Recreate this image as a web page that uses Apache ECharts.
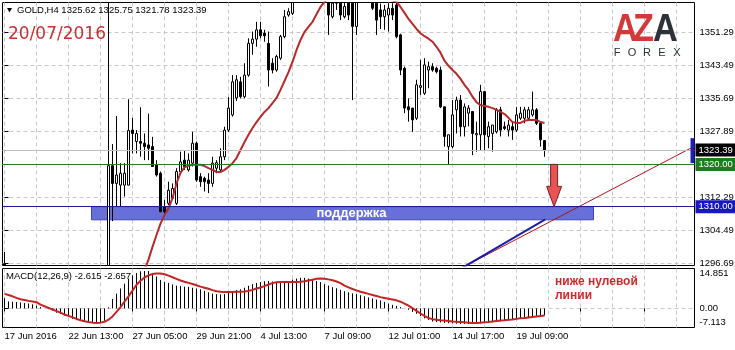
<!DOCTYPE html>
<html><head><meta charset="utf-8">
<script src="https://cdn.jsdelivr.net/npm/echarts@6/dist/echarts.min.js"></script>
<style>html,body{margin:0;padding:0;background:#fff}#c{width:735px;height:350px}</style>
</head><body><div id="c"></div>
<script>
const symbolName = 'GOLD,H4';
const dateLabel = '20/07/2016';
const macdParams = '12,26,9';
const totalSlots = 173;
const tickLabels = ['17 Jun 2016','22 Jun 13:00','27 Jun 05:00','29 Jun 21:00','4 Jul 13:00','7 Jul 09:00','12 Jul 01:00','14 Jul 17:00','19 Jul 09:00'];
const gridBars = [0,8,16,24,32,40,48,56,64,72,80,88,96,104,112,120,128,136,144,152,160,168];
const priceTicks = [1296.69,1304.49,1312.29,1320.09,1327.89,1335.69,1343.49,1351.29];
const macdTicks = [-7.113, 0, 14.851];
const priceRange = [1296.10, 1358.26];

const opens = [
1296.5,1290.0,1287.0,1285.0,1282.0,1279.0,1280.0,1278.0,1276.0,1272.0,1268.0,1267.0,1268.0,1266.0,1264.0,1268.0,1266.0,1265.0,1263.0,1264.0,1262.0,1260.0,1258.0,1256.0,1257.0,1262.0,
1262.0,1319.7,1315.5,1315.1,1315.1,1315.1,1328.1,1325.4,1325.4,1325.0,
1324.6,1324.2,1319.9,1317.9,1310.0,1310.8,1312.0,1310.8,1318.3,1321.0,
1318.7,1320.3,1325.0,1317.1,1316.7,1316.3,1315.5,1319.1,1318.7,1321.8,
1328.1,1331.7,1335.7,1339.5,1336.0,1341.1,1348.6,1349.6,1351.8,1351.0,
1348.6,1343.9,1342.3,1345.1,1350.2,1355.3,1355.7,1359.5,1362.0,1366.0,
1364.0,1368.0,1371.0,1369.0,1366.0,1361.0,1354.9,1359.0,1358.1,1354.9,
1358.1,1358.1,1352.6,1359.5,1361.5,1363.5,1361.0,1358.1,1356.5,1354.9,
1355.3,1356.9,1357.7,1350.6,1342.7,1333.6,1333.3,1330.9,1338.2,1336.8,
1342.3,1343.1,1342.7,1342.3,1333.6,1324.2,1324.2,1332.9,1335.2,1328.9,
1332.1,1332.5,1327.0,1327.0,1337.2,1326.6,1327.3,1327.7,1332.9,1328.9,
1328.1,1328.9,1328.1,1330.9,1330.9,1330.9,1331.7,1332.9,1329.7,1325.62];
const highs = [
1299.3,1291.0,1289.0,1286.0,1284.0,1282.0,1281.0,1280.0,1277.0,1274.0,1270.0,1270.0,1269.0,1268.0,1270.0,1271.0,1268.0,1267.0,1266.0,1265.0,1264.0,1262.0,1260.0,1259.0,1265.0,1266.0,
1362.5,1324.8,1331.4,1320.3,1320.3,1335.4,1331.0,1328.1,1333.5,1327.3,
1332.0,1326.5,1321.0,1318.3,1311.6,1315.9,1315.5,1319.1,1323.0,1323.4,
1322.6,1327.7,1325.4,1317.9,1317.1,1317.9,1321.8,1321.0,1323.8,1328.9,
1335.9,1341.1,1341.1,1340.7,1343.9,1349.8,1351.4,1353.7,1353.7,1351.8,
1351.4,1345.1,1345.9,1350.6,1356.5,1356.9,1362.0,1364.0,1368.0,1368.0,
1370.0,1374.0,1373.0,1371.0,1367.0,1362.0,1360.0,1361.0,1360.0,1359.5,
1360.0,1359.5,1361.0,1363.5,1365.0,1365.0,1362.0,1360.0,1358.0,1357.7,
1358.1,1358.1,1358.5,1350.9,1343.1,1335.6,1333.3,1340.0,1344.7,1345.1,
1344.3,1343.9,1343.1,1343.1,1333.6,1327.0,1335.2,1336.0,1336.4,1334.4,
1334.0,1332.5,1330.1,1338.8,1337.2,1330.1,1329.3,1333.3,1333.6,1330.1,
1330.5,1330.1,1333.6,1333.6,1333.6,1333.6,1337.2,1333.3,1330.1,1325.75];
const lows = [
1293.0,1284.0,1283.0,1279.0,1277.0,1277.0,1276.0,1274.0,1269.0,1266.0,1264.0,1265.0,1263.0,1262.0,1262.0,1264.0,1262.0,1260.0,1261.0,1259.0,1257.0,1256.0,1253.0,1254.0,1255.0,1258.0,
1255.0,1306.6,1310.0,1310.0,1312.4,1315.1,1322.6,1322.6,1321.8,1321.0,
1321.0,1319.5,1317.1,1308.8,1308.4,1310.4,1311.6,1310.4,1317.9,1318.7,
1318.3,1319.5,1315.9,1314.7,1313.6,1313.2,1314.7,1317.9,1318.3,1321.0,
1327.7,1331.3,1335.0,1335.6,1335.6,1340.7,1345.9,1347.8,1349.8,1349.0,
1338.4,1341.5,1341.9,1344.7,1349.8,1354.9,1355.3,1358.5,1361.0,1362.0,
1363.0,1367.0,1366.0,1363.0,1359.5,1350.6,1354.5,1356.5,1354.1,1354.5,
1354.1,1335.2,1350.6,1358.5,1359.5,1359.5,1356.5,1350.6,1352.0,1351.8,
1351.4,1354.1,1349.8,1341.1,1332.1,1330.1,1327.7,1330.5,1336.4,1336.4,
1338.0,1341.9,1341.5,1333.3,1324.2,1319.9,1323.8,1327.3,1326.6,1326.6,
1329.0,1322.2,1323.0,1323.4,1323.4,1323.8,1323.0,1327.3,1326.6,1328.1,
1326.6,1325.8,1327.7,1330.5,1329.7,1330.5,1331.3,1329.3,1324.2,1321.78];
const closes = [
1294.5,1287.0,1285.0,1282.0,1279.0,1280.0,1278.0,1276.0,1272.0,1268.0,1267.0,1268.0,1266.0,1264.0,1268.0,1266.0,1265.0,1263.0,1264.0,1262.0,1260.0,1258.0,1256.0,1257.0,1262.0,1262.0,
1319.7,1315.5,1317.5,1317.9,1317.9,1328.0,1327.3,1327.3,1325.0,1324.2,
1323.8,1319.5,1317.5,1308.8,1308.8,1313.9,1314.3,1318.3,1320.6,1319.5,
1321.0,1325.0,1316.3,1315.9,1315.9,1315.5,1320.3,1320.4,1321.8,1328.1,
1333.3,1339.5,1340.0,1336.0,1341.1,1348.6,1349.6,1351.8,1350.4,1350.4,
1342.3,1342.3,1345.5,1350.2,1354.9,1356.1,1359.5,1362.0,1366.0,1364.0,
1368.0,1371.0,1369.0,1366.0,1361.0,1355.3,1358.1,1358.1,1355.3,1357.3,
1355.3,1352.6,1359.5,1361.5,1363.5,1361.0,1356.9,1354.1,1354.9,1356.5,
1356.9,1355.3,1350.2,1342.3,1333.3,1332.9,1330.5,1338.8,1338.6,1343.5,
1343.1,1342.3,1341.9,1333.6,1326.6,1327.0,1331.7,1335.2,1328.9,1333.6,
1333.3,1327.3,1327.3,1337.2,1327.0,1328.9,1329.3,1332.9,1328.1,1328.5,
1329.3,1328.1,1331.7,1332.1,1332.9,1332.9,1332.9,1329.7,1325.8,1323.39];

const maValues = [
null,null,null,null,null,null,null,null,null,null,null,null,null,null,null,null,null,null,null,null,null,null,null,null,null,null,null,null,null,null,
1280.5,1283.5,1286.5,1289.5,1292.3,1295.0,1297.5,1300.5,1303.3,1306.0,
1308.0,1309.6,1312.0,1315.5,1318.0,1319.3,1319.7,1319.9,1319.9,1319.9,
1319.6,1319.1,1318.7,1318.2,1318.2,1318.7,1319.4,1320.3,1321.5,1323.4,
1325.3,1327.0,1328.6,1330.0,1331.2,1332.4,1333.3,1334.5,1335.7,1337.6,
1339.7,1341.8,1344.2,1347.0,1349.4,1351.3,1352.5,1353.7,1355.5,1357.2,
1358.4,1359.4,1360.3,1361.1,1361.8,1362.3,1362.7,1362.9,1363.0,1362.9,
1362.6,1362.2,1361.6,1360.9,1360.2,1359.6,1359.1,1358.7,1358.4,1357.2,
1355.8,1354.4,1353.2,1352.0,1351.0,1350.3,1349.7,1349.0,1347.8,1346.4,
1344.5,1343.3,1342.3,1341.4,1340.2,1338.8,1337.6,1336.0,1334.7,1334.0,
1333.8,1333.6,1333.3,1332.9,1332.4,1331.9,1331.0,1330.0,1329.8,1329.8,
1330.3,1330.5,1330.5,1330.5,1330.0,1329.8];

const macdHist = [
3.8,2.6,2.5,2.4,2.2,2.0,1.8,1.5,1.0,0.5,
0.1,-0.3,-0.8,-1.6,-2.1,-2.7,-3.2,-3.9,-4.4,-4.7,
-5.0,-5.2,-5.3,-5.3,-5.3,-4.6,0.4,3.5,5.5,7.4,
9.2,11.0,12.3,13.2,13.8,13.9,13.9,13.2,11.9,10.6,
9.9,9.5,8.9,8.5,8.3,8.1,8.0,7.7,7.4,7.1,
6.5,6.0,5.5,5.3,5.2,5.3,5.7,6.3,6.8,7.1,
7.7,8.4,9.0,9.5,9.8,10.1,10.2,10.0,9.7,9.6,
9.6,10.1,10.7,11.1,11.4,11.4,11.1,10.6,10.2,9.8,
9.0,8.5,7.9,7.5,6.9,6.4,6.0,5.6,5.3,4.9,
4.5,4.1,3.7,3.3,3.0,2.4,1.8,1.3,0.9,0.5,
0.1,-0.5,-1.3,-2.0,-2.9,-3.7,-4.3,-4.9,-5.1,-5.2,
-5.4,-5.5,-5.6,-5.7,-5.8,-5.8,-5.8,-5.8,-5.7,-5.6,
-5.5,-5.3,-5.1,-5.0,-4.9,-4.7,-4.5,-4.2,-4.0,-3.8,
-3.4,-3.2,-3.0,-2.8,-2.7,-2.615];
const macdSignal = [
5.4,5.0,4.5,3.9,3.4,3.1,2.8,2.6,2.3,1.4,
0.8,0.2,-0.4,-1.0,-1.6,-2.3,-2.8,-3.3,-3.9,-4.4,
-4.8,-5.1,-5.3,-5.4,-5.3,-5.0,-4.2,-3.0,-1.3,0.5,
2.5,4.5,6.6,8.8,10.3,11.5,12.3,12.8,13.0,13.0,
12.7,12.2,11.6,11.0,10.4,9.9,9.5,9.1,8.6,8.1,
7.7,7.3,6.8,6.4,6.2,6.1,6.1,6.1,6.2,6.2,
6.3,6.5,6.9,7.4,7.8,8.3,8.9,9.4,9.7,9.8,
9.8,9.8,9.8,9.8,9.9,10.1,10.4,10.7,11.0,11.1,
11.0,10.8,10.5,10.0,9.4,8.5,7.8,7.2,6.7,6.2,
5.8,5.4,5.0,4.6,4.2,3.9,3.6,3.3,3.0,2.5,
1.8,1.0,0.1,-0.9,-1.9,-2.8,-3.6,-4.0,-4.2,-4.4,
-4.5,-4.7,-4.9,-5.0,-5.1,-5.2,-5.3,-5.4,-5.4,-5.3,
-5.2,-5.1,-4.9,-4.7,-4.5,-4.4,-4.2,-4.1,-3.9,-3.7,
-3.6,-3.4,-3.2,-3.0,-2.8,-2.657];

const levelPrices = [1320.00, 1310.00];
const zoneBars = [21.75, 147.25];
const zonePrices = [1310.0, 1306.9];
const redTrendBars = [112, 172.5];
const redTrendPrices = [1294.4, 1324.3];
const blueTrendBars = [112, 135.2];
const blueTrendPrices = [1294.2, 1307.0];
const arrowBar = 137.4;
const arrowPrices = [1320.0, 1310.0];
const tabPrices = [1326.2, 1320.3];

const FONT = '"Liberation Sans", Arial, sans-serif';
const chart = echarts.init(document.getElementById('c'), null, {renderer: 'canvas'});
const categories = Array.from({length: totalSlots}, (_, i) => String(i));
// candles are cut at the edges of the price window, as the plot frame does
const clampP = v => Math.min(Math.max(v, priceRange[0]), priceRange[1]);
const candleData = opens.map((o, i) => {
  if (lows[i] > priceRange[1] || highs[i] < priceRange[0]) return '-';
  return [clampP(o), clampP(closes[i]), clampP(lows[i]), clampP(highs[i])];
});
// histogram stems: one vertical segment per bar, separated by gaps
const histStems = [];
macdHist.forEach((v, i) => { histStems.push([i, 0], [i, v], [i, '-']); });
const last = opens.length - 1;
const lastClose = closes[last];
const gridLine = {color: '#c8c8c8', width: 1, type: [4, 3]};
const lblBase = {fontSize: 9.5, color: '#000', fontFamily: FONT};

const option = {
  animation: false,
  backgroundColor: '#fff',
  textStyle: {fontFamily: FONT},
  grid: [
    {left: 2.5, right: 40.5, top: 2.5, height: 263, show: true, borderColor: '#000', borderWidth: 1, backgroundColor: '#fff', outerBoundsMode: 'none'},
    {left: 2.5, right: 40.5, top: 268.5, height: 59, show: true, borderColor: '#000', borderWidth: 1, backgroundColor: '#fff', outerBoundsMode: 'none'}
  ],
  xAxis: [
    {type: 'category', gridIndex: 0, data: categories, boundaryGap: true,
     axisLine: {show: false}, axisTick: {show: false}, axisLabel: {show: false},
     splitLine: {show: true, interval: 7, alignWithLabel: true, lineStyle: gridLine}},
    {type: 'category', gridIndex: 1, data: categories, boundaryGap: true,
     axisLine: {show: false},
     axisTick: {show: true, interval: 15, alignWithLabel: true, length: 3, lineStyle: {color: '#000'}},
     axisLabel: Object.assign({show: true, interval: 15, align: 'left', margin: 4,
       formatter: (v, idx) => tickLabels[idx / 16] || ''}, lblBase),
     splitLine: {show: false}},
    {type: 'value', gridIndex: 0, min: -0.5, max: totalSlots - 0.5, show: false},
    {type: 'value', gridIndex: 1, min: -0.5, max: totalSlots - 0.5,
     axisLine: {show: false}, axisTick: {show: true, length: 0, customValues: gridBars},
     axisLabel: {show: false}, splitLine: {show: true, lineStyle: gridLine}}
  ],
  yAxis: [
    {type: 'value', gridIndex: 0, position: 'right', min: priceRange[0], max: priceRange[1],
     axisLine: {show: false},
     axisTick: {show: true, length: 4, customValues: priceTicks, lineStyle: {color: '#000'}},
     axisLabel: Object.assign({customValues: priceTicks, margin: 5, formatter: v => v.toFixed(2)}, lblBase),
     splitLine: {show: true, lineStyle: gridLine}},
    {type: 'value', gridIndex: 1, position: 'right', min: -7.113, max: 14.851,
     axisLine: {show: false},
     axisTick: {show: true, length: 4, customValues: macdTicks, lineStyle: {color: '#000'}},
     axisLabel: Object.assign({customValues: macdTicks, margin: 5,
       verticalAlignMinLabel: 'bottom', verticalAlignMaxLabel: 'top',
       formatter: v => v === 0 ? '0.00' : v.toFixed(3)}, lblBase),
     splitLine: {show: true, showMinLine: false, showMaxLine: false, lineStyle: gridLine}}
  ],
  series: [
    {type: 'line', xAxisIndex: 3, yAxisIndex: 1, z: 3, symbol: 'none', showSymbol: false, connectNulls: false,
     data: histStems, lineStyle: {color: '#000', width: 1}},
    {type: 'line', xAxisIndex: 1, yAxisIndex: 1, symbol: 'none', showSymbol: false, z: 6,
     data: macdSignal, lineStyle: {color: '#c42424', width: 2}},
    {type: 'line', xAxisIndex: 2, yAxisIndex: 0, z: 4, symbol: 'none',
     data: redTrendBars.map((b, i) => [b, redTrendPrices[i]]),
     lineStyle: {color: '#a81818', width: 1},
     markArea: {silent: true,
       itemStyle: {color: '#6670d8', borderColor: '#4048a8', borderWidth: 1},
       label: {show: true, position: 'inside', formatter: 'поддержка', color: '#fff', fontWeight: 'bold', fontSize: 13, fontFamily: FONT, offset: [9, 0]},
       data: [[{xAxis: zoneBars[0], yAxis: zonePrices[0]}, {xAxis: zoneBars[1], yAxis: zonePrices[1]}]]}},
    {type: 'line', xAxisIndex: 2, yAxisIndex: 0, z: 4, symbol: 'none',
     data: blueTrendBars.map((b, i) => [b, blueTrendPrices[i]]),
     lineStyle: {color: '#1c1ca8', width: 2}},
    {type: 'candlestick', xAxisIndex: 0, yAxisIndex: 0, z: 3, barWidth: 3,
     data: candleData,
     itemStyle: {color: '#fff', color0: '#000', borderColor: '#000', borderColor0: '#000', borderWidth: 1},
     markLine: {silent: true, symbol: ['none', 'none'],
       label: {show: true, position: 'end', distance: 1, color: '#fff', fontSize: 9.5, fontFamily: FONT, padding: [2, 3, 1, 3]},
       lineStyle: {type: 'solid', width: 1},
       data: [
         {yAxis: lastClose, lineStyle: {color: '#c0c0c0', type: 'solid'}, label: {formatter: lastClose.toFixed(2), backgroundColor: '#000'}},
         {yAxis: levelPrices[0], lineStyle: {color: '#2a7a2a', type: 'solid'}, label: {formatter: levelPrices[0].toFixed(2), backgroundColor: '#1e7b1e'}},
         {yAxis: levelPrices[1], lineStyle: {color: '#1e1e8c', type: 'solid'}, label: {formatter: levelPrices[1].toFixed(2), backgroundColor: '#1818c0'}}
       ]}},
    {type: 'line', xAxisIndex: 0, yAxisIndex: 0, z: 4, symbol: 'none', showSymbol: false,
     data: maValues, lineStyle: {color: '#b52a2a', width: 2}}
  ]
};
chart.setOption(option);

const px = (bar, price) => chart.convertToPixel({xAxisIndex: 2, yAxisIndex: 0}, [bar, price]);
const aTop = px(arrowBar, arrowPrices[0]);
const aTip = px(arrowBar, arrowPrices[1]);
const cx = aTop[0];
const headBase = aTip[1] - (aTip[1] - aTop[1]) * 0.48;
const tabA = px(totalSlots - 0.5, tabPrices[0]);
const tabB = px(totalSlots - 0.5, tabPrices[1]);
const f = (v) => v.toFixed(2);
const header = `${symbolName} ${f(opens[last])} ${f(highs[last])} ${f(lows[last])} ${f(closes[last])}`;
const macdLabel = `MACD(${macdParams}) ${macdHist[last].toFixed(3)} ${macdSignal[last].toFixed(3)}`;
const txt = (x, y, text, font, fill) => ({type: 'text', x, y, z: 100,
  style: {text, font, fill, verticalAlign: 'middle', textVerticalAlign: 'middle'}});
const logoLetter = (x, ch, fill) => ({type: 'text', x, y: 31, z: 100, scaleX: 0.9, originX: 0, originY: 0,
  style: {text: ch, font: `bold 38px ${FONT}`, fill, verticalAlign: 'middle', textVerticalAlign: 'middle'}});

chart.setOption({graphic: [
  {type: 'polygon', z: 100, shape: {points: [[7, 8], [12, 8], [9.5, 12.5]]}, style: {fill: '#000'}},
  txt(17, 10.5, header, `9.5px ${FONT}`, '#000'),
  txt(8, 34.5, dateLabel, '17px "DejaVu Sans", sans-serif', '#c03434'),
  txt(6, 276, macdLabel, `9.5px ${FONT}`, '#000'),
  txt(555, 282, 'ниже нулевой', `bold 12px ${FONT}`, '#cc2a2a'),
  txt(555, 296, 'линии', `bold 12px ${FONT}`, '#cc2a2a'),
  {type: 'polygon', z: 100,
   shape: {points: [[cx - 3.5, aTop[1]], [cx + 3.5, aTop[1]], [cx + 3.5, headBase], [cx + 7.5, headBase], [cx, aTip[1]], [cx - 7.5, headBase], [cx - 3.5, headBase]]},
   style: {fill: '#e85454', stroke: '#7a2020', lineWidth: 1}},
  {type: 'rect', z: 100, shape: {x: tabA[0] - 4, y: tabA[1], width: 4, height: tabB[1] - tabA[1]}, style: {fill: '#2020b0'}},
  logoLetter(613, 'A', '#d13a3a'),
  logoLetter(633, 'Z', '#d13a3a'),
  logoLetter(653, 'A', '#2d3138'),
  ...['F', 'O', 'R', 'E', 'X'].map((ch, i) => ({type: 'text', x: 617 + 15 * i, y: 53, z: 100,
   style: {text: ch, font: `11px ${FONT}`, fill: '#2d3138', align: 'center', textAlign: 'center', verticalAlign: 'middle', textVerticalAlign: 'middle'}}))
]});
</script>
</body></html>
